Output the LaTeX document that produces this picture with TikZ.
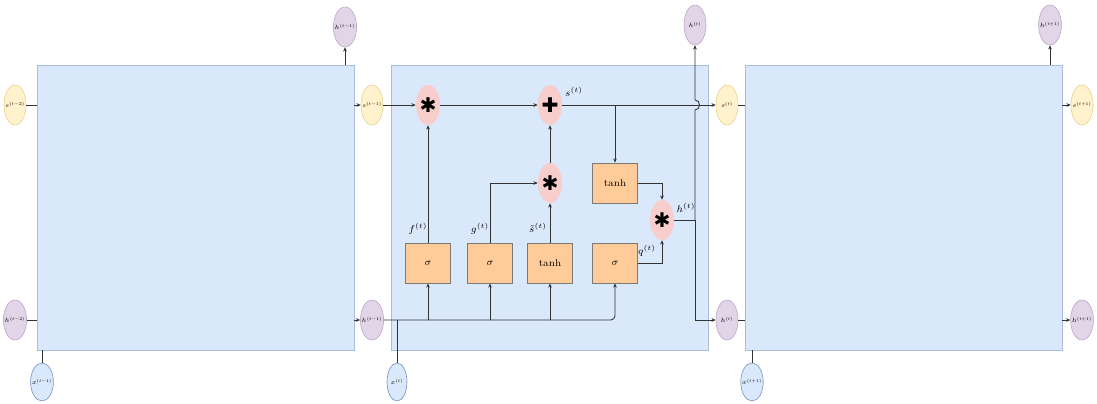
\documentclass[tikz,border=0pt]{standalone}
\usepackage{fix-cm}
\usepackage{amsmath}
\usepackage{fontspec}
\usetikzlibrary{arrows.meta, calc, positioning, shapes.geometric}
\newfontfamily\symfont{DejaVu Sans}
\definecolor{cellfill}{HTML}{DAE8FC}
\definecolor{cellline}{HTML}{A9BEDC}
\definecolor{stfill}{HTML}{FFF2CC}
\definecolor{stline}{HTML}{E6D08A}
\definecolor{hidfill}{HTML}{E1D5E7}
\definecolor{hidline}{HTML}{B9A3C6}
\definecolor{inpline}{HTML}{6C8EBF}
\definecolor{opfill}{HTML}{F8CECC}
\definecolor{gatefill}{HTML}{FFCC99}
\definecolor{gateline}{HTML}{7A7A7A}
\definecolor{wirec}{HTML}{333333}

\begin{document}
\begin{tikzpicture}[
    x=0.025cm, y=-0.025cm,
    >={Stealth[length=3pt, width=2.6pt]},
    cell/.style={rectangle, draw=cellline, fill=cellfill, line width=0.6pt,
                 minimum width=7.925cm, minimum height=7.125cm, inner sep=0pt},
    blob/.style={ellipse, minimum width=0.55cm, minimum height=1cm,
                 inner xsep=-1.5pt, inner ysep=0pt,
                 line width=0.4pt, font=\fontsize{4.4pt}{5pt}\selectfont},
    stt/.style={blob, fill=stfill, draw=stline},
    hid/.style={blob, fill=hidfill, draw=hidline},
    inp/.style={blob, fill=cellfill, draw=inpline, minimum width=0.5cm, minimum height=0.95cm},
    op/.style={ellipse, fill=opfill, draw=none, minimum width=0.55cm,
               minimum height=1cm, inner sep=0pt, font=\symfont\Large},
    gate/.style={rectangle, fill=gatefill, draw=gateline, line width=0.6pt,
                 minimum width=1.125cm, minimum height=1cm, font=\scriptsize},
    lbl/.style={font=\scriptsize, inner sep=0pt},
    wire/.style={draw=wirec, line width=0.6pt},
]
\useasboundingbox (0,0) rectangle (1097,403);

% the three unrolled cells
\node[cell] (blkA) at (195.5,207.5) {};
\node[cell] (blkB) at (549.5,207.5) {};
\node[cell] (blkC) at (903.5,207.5) {};

% states, hidden outputs, inputs
\node[stt] (sA) at (15,105) {$s^{(t-2)}$};
\node[stt] (sB) at (372,105) {$s^{(t-1)}$};
\node[stt] (sC) at (727,105) {$s^{(t)}$};
\node[stt] (sD) at (1082,105) {$s^{(t+1)}$};

\node[hid] (hA) at (15,320) {$h^{(t-2)}$};
\node[hid] (hB) at (372,320) {$h^{(t-1)}$};
\node[hid] (hC) at (727,320) {$h^{(t)}$};
\node[hid] (hD) at (1082,320) {$h^{(t+1)}$};

\node[hid] (hBt) at (345,27) {$h^{(t-1)}$};
\node[hid] (hCt) at (695,25) {$h^{(t)}$};
\node[hid] (hDt) at (1050,25) {$h^{(t+1)}$};

\node[inp] (xA) at (42,382) {$x^{(t-1)}$};
\node[inp] (xB) at (397,382) {$x^{(t)}$};
\node[inp] (xC) at (752,382) {$x^{(t+1)}$};

% middle cell: operators and gates
\node[op] (mulF) at (428,105) {✱};
\node[op] (addS) at (550,105) {✚};
\node[op] (mulG) at (550,183) {✱};
\node[op] (mulQ) at (662,220) {✱};

\node[gate] (sigF) at (428,263) {$\sigma$};
\node[gate] (sigG) at (490,263) {$\sigma$};
\node[gate] (tanhS) at (550,263) {tanh};
\node[gate] (sigQ) at (615,263) {$\sigma$};
\node[gate] (tanhC) at (615,183) {tanh};

\node[lbl] (fLbl) at (418,229) {$f^{(t)}$};
\node[lbl] (gLbl) at (480,229) {$g^{(t)}$};
\node[lbl] (sTLbl) at (538,228) {$\tilde{s}^{(t)}$};
\node[lbl] (sLbl) at (574,92) {$s^{(t)}$};
\node[lbl] (qLbl) at (647,251) {$q^{(t)}$};
\node[lbl] (hLbl) at (686,208) {$h^{(t)}$};

\coordinate (hj) at (695,220);
\coordinate (hop1) at (695,110);
\coordinate (hop2) at (695,100);

% left cell
\draw[wire] (sA.east) -- (sA -| blkA.west);
\draw[wire] (hA.east) -- (hA -| blkA.west);
\draw[wire] (xA.north) -- (xA |- blkA.south);
\draw[wire,->] (sA -| blkA.east) -- (sB.west);
\draw[wire,->] (hA -| blkA.east) -- (hB.west);
\draw[wire,->] (hBt |- blkA.north) -- (hBt.south);

% middle cell: state line
\draw[wire,->] (sB.east) -- (mulF.west);
\draw[wire,->] (mulF.east) -- (addS.west);
\draw[wire,->] (addS.east) -- (sC.west);
\draw[wire,->] (addS -| tanhC) -- (tanhC.north);
\draw[wire,->] (tanhC.east) -| (mulQ.north);
\draw[wire,->] (sigQ.east) -| (mulQ.south);

% gates into operators
\draw[wire,->] (sigF.north) -- (mulF.south);
\draw[wire,->] (sigG.north) |- (mulG.west);
\draw[wire,->] (tanhS.north) -- (mulG.south);
\draw[wire,->] (mulG.north) -- (addS.south);

% hidden output
\draw[wire] (mulQ.east) -- (hj);
\draw[wire,->] (hj) |- (hC.west);
\draw[wire,->] (hj) -- (hop1) .. controls ($(hop1)+(6,0)$) and ($(hop2)+(6,0)$) .. (hop2) -- (hCt.south);

% input bus
\draw[wire,->,rounded corners=3pt] (hB.east) -| (sigQ.south);
\draw[wire] (xB.north) -- (xB |- hB);
\draw[wire,->] (sigF |- hB) -- (sigF.south);
\draw[wire,->] (sigG |- hB) -- (sigG.south);
\draw[wire,->] (tanhS |- hB) -- (tanhS.south);

% right cell
\draw[wire] (sC.east) -- (sC -| blkC.west);
\draw[wire] (hC.east) -- (hC -| blkC.west);
\draw[wire] (xC.north) -- (xC |- blkC.south);
\draw[wire,->] (sD -| blkC.east) -- (sD.west);
\draw[wire,->] (hD -| blkC.east) -- (hD.west);
\draw[wire,->] (hDt |- blkC.north) -- (hDt.south);

\end{tikzpicture}
\end{document}
